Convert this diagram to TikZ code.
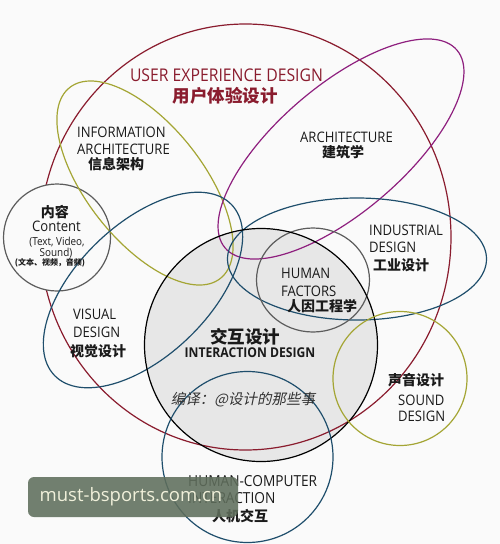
\documentclass[tikz,border=0pt]{standalone}
\usepackage{fontspec}
\setmainfont{Open Sans}[FakeStretch=0.9]
\newfontfamily\cjk{Noto Sans CJK SC}
\newfontfamily\cjksl{Noto Sans CJK SC}[FakeSlant=0.2]
\newfontfamily\wmfont{Open Sans}
\definecolor{bgc}{HTML}{FAFAFA}
\definecolor{uxred}{HTML}{8A1C2E}
\definecolor{olv}{HTML}{A4A534}
\definecolor{archpur}{HTML}{8E1F7E}
\definecolor{bluel}{HTML}{1F4E6C}
\definecolor{grayl}{HTML}{5C5C5C}
\definecolor{ixfill}{HTML}{E7E7E7}
\definecolor{txt}{HTML}{1A1A1A}
\definecolor{wmfill}{HTML}{5F6E5C}
\definecolor{wmtxt}{HTML}{F0F0DA}
\tikzset{
  shp/.style={line width=1.2pt},
  lat/.style={font=\fontsize{14.5}{16}\selectfont, inner sep=0pt, anchor=west, text=txt},
  zh/.style={font=\cjk\bfseries\fontsize{14}{16}\selectfont, inner sep=0pt, anchor=west, text=txt},
}
\begin{document}
\begin{tikzpicture}[x=1pt,y=1pt]
\useasboundingbox (0,0) rectangle (500,-544);
\fill[bgc] (0,0) rectangle (500,-544);
% interaction fill
\fill[ixfill] (261,-345) circle (116.5);
% UX ellipse
\draw[shp, uxred] (245.5,-237) ellipse [x radius=205.5, y radius=213];
% content circle (white, hides UX line)
\filldraw[shp, grayl, fill=bgc] (57,-237.5) circle (53.5);
% information architecture
\draw[shp, olv, rotate around={-51.7:(145,-183)}] (145,-183) ellipse [x radius=121.6, y radius=58.1];
% architecture
\draw[shp, archpur, rotate around={40.5:(341,-149)}] (341,-149) ellipse [x radius=152.4, y radius=63.2];
% visual design
\draw[shp, bluel, rotate around={44:(143,-290)}] (143,-290) ellipse [x radius=123, y radius=66];
% industrial design
\draw[shp, bluel] (357,-259) ellipse [x radius=129.5, y radius=61];
% human factors
\draw[shp, grayl] (313,-280) ellipse [x radius=56.5, y radius=52];
% interaction outline
\draw[shp, black] (261,-345) circle (116.5);
% sound design
\draw[shp, olv] (400,-378.5) circle (67);
% HCI
\draw[shp, bluel] (247.5,-457) circle (85.5);

% texts
\node[inner sep=0pt, text=uxred, font=\fontsize{17.5}{20}\selectfont] (ux1) at (226.5,-75) {USER EXPERIENCE DESIGN};
\node[inner sep=0pt, text=uxred, font=\cjk\bfseries\fontsize{17.5}{20}\selectfont] (ux2) at (225,-96) {用户体验设计};

\node[lat] (ia1) at (77,-132) {INFORMATION};
\node[lat] (ia2) at (77,-149) {ARCHITECTURE};
\node[zh] (ia3) at (88,-164) {信息架构};

\node[lat] (ar1) at (300,-137) {ARCHITECTURE};
\node[zh] (ar2) at (322,-152) {建筑学};

\node[zh, anchor=center] (ct1) at (55,-212) {内容};
\node[lat, anchor=center] (ct2) at (56.5,-226) {Content};
\node[lat, anchor=center, font=\fontsize{11}{13}\selectfont] (ct3) at (57,-242) {(Text, Video,};
\node[lat, anchor=center, font=\fontsize{11}{13}\selectfont] (ct4) at (56,-253) {Sound)};
\node[zh, anchor=center, font=\cjk\bfseries\fontsize{8}{9}\selectfont] (ct5) at (50,-263) {(文本、视频，音频)};

\node[lat] (vd1) at (73,-314) {VISUAL};
\node[lat] (vd2) at (73,-332) {DESIGN};
\node[zh] (vd3) at (70,-351) {视觉设计};

\node[lat] (id1) at (369,-230) {INDUSTRIAL};
\node[lat] (id2) at (369,-247) {DESIGN};
\node[zh] (id3) at (373,-265) {工业设计};

\node[lat] (hf1) at (281,-273) {HUMAN};
\node[lat] (hf2) at (281,-291) {FACTORS};
\node[zh] (hf3) at (287,-306) {人因工程学};

\node[zh, anchor=center, font=\cjk\bfseries\fontsize{17.5}{20}\selectfont] (ix1) at (245,-337) {交互设计};
\node[lat, anchor=center, font=\bfseries\fontsize{13.5}{16}\selectfont] (ix2) at (250,-353) {INTERACTION DESIGN};
\node[inner sep=0pt, text={rgb,255:red,50;green,50;blue,50}, font=\cjksl\fontsize{14.5}{17}\selectfont] (ix3) at (243,-400) {编译：@设计的那些事};

\node[zh] (sd1) at (388,-380) {声音设计};
\node[lat] (sd2) at (398,-400) {SOUND};
\node[lat] (sd3) at (398,-416) {DESIGN};

\node[lat, font=\fontsize{15.2}{17}\selectfont] (hc1) at (188,-481) {HUMAN-COMPUTER};
\node[lat, font=\fontsize{15.2}{17}\selectfont] (hc2) at (188,-498) {INTERACTION};
\node[zh] (hc3) at (212,-516) {人机交互};

% watermark
\fill[wmfill, opacity=0.88, rounded corners=6pt] (28,-477) rectangle (238,-517);
\node[inner sep=0pt, text=wmtxt, font=\wmfont\fontsize{18.5}{20}\selectfont] (wm) at (131,-497) {must-bsports.com.cn};
\end{tikzpicture}
\end{document}
